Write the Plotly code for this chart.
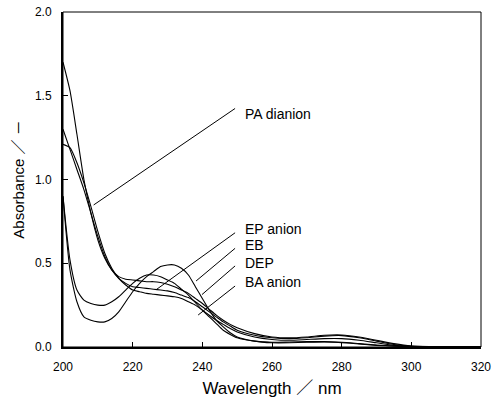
import plotly.graph_objects as go

wavelength = [200, 202, 204, 206, 208, 210, 212, 214, 216, 218, 220, 222, 224, 226, 228,
              230, 232, 234, 236, 238, 240, 242, 244, 246, 248, 250, 255, 260, 265, 270,
              275, 280, 285, 290, 295, 300, 305, 310, 315, 320]

pa_dianion = [1.70, 1.53, 1.27, 1.00, 0.80, 0.64, 0.53, 0.46, 0.42, 0.405, 0.40, 0.395, 0.39, 0.39, 0.385,
              0.375, 0.36, 0.34, 0.32, 0.29, 0.26, 0.225, 0.19, 0.16, 0.135, 0.115, 0.08, 0.06, 0.055, 0.06,
              0.07, 0.072, 0.06, 0.04, 0.02, 0.006, 0.002, 0.001, 0.001, 0.001]

ep_anion = [1.30, 1.18, 1.06, 0.94, 0.80, 0.66, 0.54, 0.46, 0.41, 0.38, 0.36, 0.355, 0.35, 0.345, 0.34,
            0.335, 0.325, 0.31, 0.295, 0.27, 0.24, 0.21, 0.18, 0.15, 0.125, 0.10, 0.07, 0.055, 0.05, 0.055,
            0.065, 0.068, 0.055, 0.035, 0.015, 0.005, 0.002, 0.001, 0.001, 0.001]

dep = [1.21, 1.19, 1.10, 0.98, 0.84, 0.69, 0.56, 0.47, 0.41, 0.37, 0.34, 0.33, 0.32, 0.315, 0.31,
       0.305, 0.30, 0.29, 0.27, 0.25, 0.22, 0.19, 0.16, 0.135, 0.11, 0.09, 0.06, 0.045, 0.04, 0.045,
       0.05, 0.05, 0.04, 0.025, 0.01, 0.003, 0.001, 0.001, 0.001, 0.001]

eb = [0.90, 0.46, 0.27, 0.18, 0.16, 0.15, 0.15, 0.17, 0.21, 0.27, 0.33, 0.38, 0.42, 0.45, 0.48,
      0.49, 0.49, 0.47, 0.43, 0.36, 0.29, 0.22, 0.16, 0.12, 0.085, 0.06, 0.035, 0.025, 0.025, 0.028,
      0.03, 0.028, 0.02, 0.012, 0.006, 0.003, 0.002, 0.001, 0.001, 0.001]

ba_anion = [0.90, 0.52, 0.34, 0.28, 0.26, 0.25, 0.25, 0.27, 0.30, 0.34, 0.38, 0.41, 0.43, 0.43, 0.42,
            0.40, 0.38, 0.345, 0.31, 0.265, 0.22, 0.18, 0.14, 0.10, 0.075, 0.055, 0.035, 0.028, 0.03, 0.032,
            0.032, 0.026, 0.018, 0.01, 0.005, 0.002, 0.001, 0.001, 0.001, 0.001]

series_names = ["PA dianion", "EP anion", "EB", "DEP", "BA anion"]
series_values = [pa_dianion, ep_anion, eb, dep, ba_anion]

# label text anchor (x, y) and leader line end points (x0, y0) -> (x1, y1)
label_pos = [(251.7, 1.39), (251.7, 0.707), (251.7, 0.609), (251.7, 0.501), (251.7, 0.388)]
leader_start = [(249.4, 1.424), (249.4, 0.682), (249.4, 0.589), (249.4, 0.484), (249.4, 0.364)]
leader_end = [(208.8, 0.848), (226.8, 0.343), (238.2, 0.394), (239.9, 0.313), (238.8, 0.191)]

x_ticks = [200, 220, 240, 260, 280, 300, 320]
y_ticks = [0.0, 0.5, 1.0, 1.5, 2.0]

FONT = "Liberation Sans, Arial, Noto Sans CJK JP, sans-serif"

fig = go.Figure()
for name, vals in zip(series_names, series_values):
    fig.add_trace(go.Scatter(x=wavelength, y=vals, mode="lines", name=name,
                             line=dict(color="black", width=1.1, shape="spline", smoothing=0.6),
                             showlegend=False, hoverinfo="skip"))

shapes = []
for (x0, y0), (x1, y1) in zip(leader_start, leader_end):
    shapes.append(dict(type="line", xref="x", yref="y", x0=x0, y0=y0, x1=x1, y1=y1,
                       line=dict(color="black", width=1)))
shapes.append(dict(type="rect", xref="paper", yref="paper", x0=0, y0=0, x1=1, y1=1,
                   line=dict(color="black", width=1), layer="above"))

annotations = []
for name, (x, y) in zip(series_names, label_pos):
    annotations.append(dict(x=x, y=y, xref="x", yref="y", text=name, showarrow=False,
                            xanchor="left", yanchor="middle",
                            font=dict(family=FONT, size=14, color="black")))

fig.update_layout(
    template="none",
    width=495, height=398,
    margin=dict(l=63, r=14, t=12, b=51, pad=0),
    paper_bgcolor="white", plot_bgcolor="white",
    shapes=shapes, annotations=annotations,
    font=dict(family=FONT, color="black"),
    xaxis=dict(range=[200, 320], tickvals=x_ticks, ticktext=[str(v) for v in x_ticks],
               ticks="inside", ticklen=5, tickwidth=1, tickcolor="black", automargin=False,
               ticklabelstandoff=8,
               showline=True, linecolor="black", linewidth=2, showgrid=False, zeroline=False,
               tickfont=dict(size=12), title=dict(text="Wavelength ／ nm", font=dict(size=17), standoff=10)),
    yaxis=dict(range=[0, 2], tickvals=y_ticks, ticktext=[f"{v:.1f}" for v in y_ticks],
               ticks="inside", ticklen=5, tickwidth=1, tickcolor="black", automargin=False,
               ticklabelstandoff=7,
               showline=True, linecolor="black", linewidth=2, showgrid=False, zeroline=False,
               tickfont=dict(size=12), title=dict(text="Absorbance ／ －", font=dict(size=15), standoff=7)),
)

fig.write_html("out.html")
